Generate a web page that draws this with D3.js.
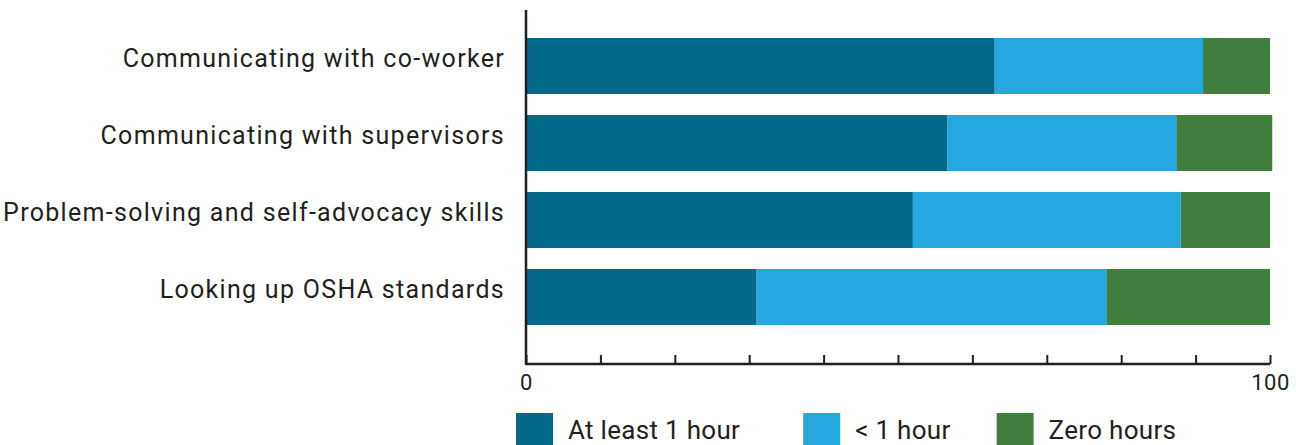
<!DOCTYPE html>
<html>
<head>
<meta charset="utf-8">
<script src="https://cdn.jsdelivr.net/npm/d3@7"></script>
<style>
  html, body { margin: 0; padding: 0; background: #fff; }
  svg { display: block; }
  text { font-family: Roboto, "Noto Sans", sans-serif; fill: #231f20; }
</style>
</head>
<body>
<svg id="chart" width="1296" height="445"></svg>
<script>
const categories = [
  "Communicating with co-worker",
  "Communicating with supervisors",
  "Problem-solving and self-advocacy skills",
  "Looking up OSHA standards"
];
const seriesNames = ["At least 1 hour", "< 1 hour", "Zero hours"];
const atLeast1Hour = [63, 56.6, 52, 31];
const lessThan1Hour = [28, 30.8, 36, 47];
const zeroHours = [9, 12.9, 12, 22];
const tickValues = [0, 10, 20, 30, 40, 50, 60, 70, 80, 90, 100];
const tickLabels = ["0", "", "", "", "", "", "", "", "", "", "100"];
const colors = ["#02698b", "#25a8e0", "#427f3e"];

const svg = d3.select("#chart");
const plotLeft = 526, plotRight = 1270, plotTop = 38, plotBottom = 325, axisY = 364;

const rows = categories.map((c, i) => ({
  cat: c, a: atLeast1Hour[i], b: lessThan1Hour[i], z: zeroHours[i]
}));
const series = d3.stack().keys(["a", "b", "z"])(rows);

const x = d3.scaleLinear().domain([0, 100]).range([plotLeft, plotRight]);
const y = d3.scaleBand().domain(categories).range([plotTop, plotBottom])
  .paddingInner(21 / 77).paddingOuter(0);

const g = svg.append("g");
series.forEach((s, si) => {
  g.append("g").attr("fill", colors[si])
    .selectAll("rect").data(s).join("rect")
    .attr("x", d => x(d[0]))
    .attr("width", d => x(d[1]) - x(d[0]))
    .attr("y", d => y(d.data.cat))
    .attr("height", y.bandwidth());
});

// category labels
svg.append("g").selectAll("text").data(categories).join("text")
  .attr("x", plotLeft - 21)
  .attr("y", d => y(d) + y.bandwidth() / 2 - 8)
  .attr("text-anchor", "end")
  .attr("dominant-baseline", "central")
  .style("font-size", "25px")
  .style("letter-spacing", "1.3px")
  .text(d => d);

// y axis line
svg.append("line")
  .attr("x1", plotLeft).attr("x2", plotLeft)
  .attr("y1", 10).attr("y2", axisY + 1)
  .attr("stroke", "#231f20").attr("stroke-width", 2.5);

// x axis
const xAxis = d3.axisBottom(x).tickValues(tickValues)
  .tickSizeInner(-9).tickSizeOuter(0)
  .tickFormat((d, i) => tickLabels[i]);
const ax = svg.append("g").attr("transform", `translate(0,${axisY})`).call(xAxis);
ax.select(".domain").attr("stroke", "#231f20").attr("stroke-width", 2.5)
  .attr("d", `M${plotLeft},0H${plotRight}`);
ax.selectAll(".tick line").attr("stroke", "#231f20").attr("stroke-width", 2);
ax.selectAll(".tick text")
  .attr("y", 10)
  .attr("dy", "0.71em")
  .style("font-size", "22px")
  .style("letter-spacing", "0.5px")
  .attr("fill", "#231f20");

// legend
const legend = svg.append("g");
const gaps = [63, 46, 0];
let lx = 516;
seriesNames.forEach((name, i) => {
  const item = legend.append("g").attr("transform", `translate(${lx},413)`);
  item.append("rect").attr("width", 37).attr("height", 36).attr("fill", colors[i]);
  const t = item.append("text").attr("x", 52).attr("y", 25.5)
    .style("font-size", "26px").style("letter-spacing", "0.3px").text(name);
  const w = t.node().getComputedTextLength();
  lx += 52 + w + gaps[i];
});
</script>
</body>
</html>
